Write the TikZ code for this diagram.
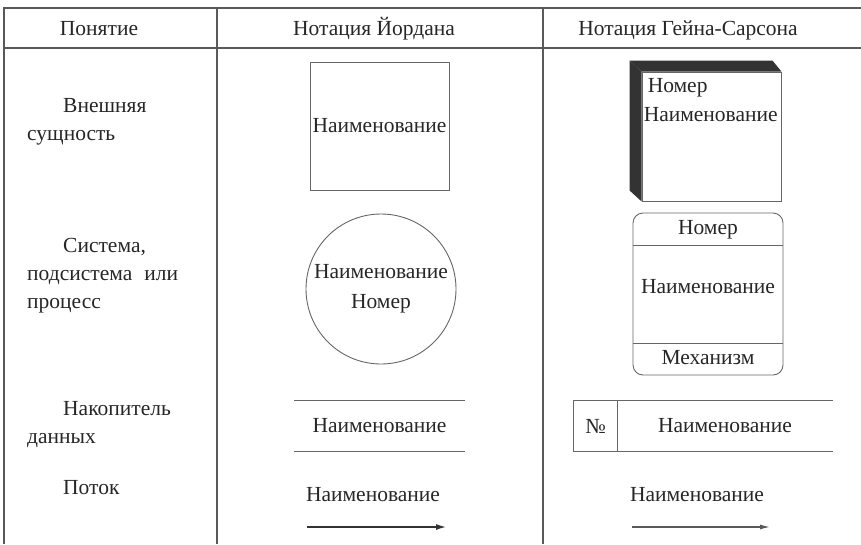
\documentclass[tikz,border=0pt]{standalone}
\usepackage{fontspec}
\setmainfont{Liberation Serif}
\usetikzlibrary{shapes,arrows,arrows.meta,positioning,calc}

\begin{document}
\begin{tikzpicture}[x=1pt,y=-1pt,
    every node/.style={font=\fontsize{21.5}{28}\selectfont, text=black!85},
    grid/.style={draw=black!65, line width=1.3pt},
    shp/.style={draw=black!60, line width=0.9pt},
    concept/.style={anchor=west, align=left, inner sep=0pt},
    head/.style={anchor=base},
    box/.style={shp, inner sep=0pt}]
    \useasboundingbox (0,0) rectangle (861,544);

    % Table
    \draw[grid] (861,8) -- (4,8) -- (4,544);
    \draw[grid] (4,48) -- (861,48);
    \draw[grid] (217,8) -- (217,544);
    \draw[grid] (543,8) -- (543,544);

    % Header
    \node[head] (hconcept) at (99,35) {Понятие};
    \node[head] (hyourdon) at (374,35) {Нотация Йордана};
    \node[head] (hgane) at (688,35) {Нотация Гейна-Сарсона};

    % Concepts
    \node[concept] (cext) at (27,122) {\hspace*{36pt}Внешняя\\сущность};
    \node[concept] (cproc) at (27,276) {\hspace*{36pt}Система,\\\hbox to 151pt{подсистема\hfill или}\\процесс};
    \node[concept] (cstore) at (27,425) {\hspace*{36pt}Накопитель\\данных};
    \node[concept] (cflow) at (63,488) {Поток};

    % Yourdon notation
    \node[box, minimum width=139, minimum height=128] (yext) at (379.5,126) {Наименование};
    \node[box, circle, minimum size=150, align=center, font=\fontsize{21.5}{30}\selectfont] (yproc) at (381,289) {Наименование\\Номер};
    \node[minimum width=171, minimum height=50, inner sep=0pt] (ystore) at (379.5,426) {Наименование};
    \draw[shp] (ystore.north west) -- (ystore.north east);
    \draw[shp] (ystore.south west) -- (ystore.south east);
    \node (yflowlbl) at (373,495) {Наименование};
    \coordinate (yflowA) at (307,527);
    \coordinate (yflowB) at (447,527);
    \draw[-{Latex[length=11pt,width=6pt]}, black!80, line width=2pt] (yflowA) -- (yflowB);

    % Gane-Sarson notation
    \node[box, minimum width=139, minimum height=129] (gext) at (711.5,136.5) {};
    \fill[black!80] (gext.north west) -- ++(-12,-11) -- ($(gext.north east)+(-9,-11)$) -- (gext.north east) -- cycle;
    \fill[black!80] (gext.north west) -- ++(-12,-11) -- ($(gext.south west)+(-12,-11)$) -- (gext.south west) -- cycle;
    \node[anchor=north west, align=left, inner sep=0pt, font=\fontsize{21.5}{29}\selectfont] (gextlbl) at ($(gext.north west)+(2,7)$) {\hspace*{4pt}Номер\\Наименование};

    \node[box, rounded corners=10pt, minimum width=150, minimum height=162] (gproc) at (708,294) {};
    \draw[shp] ($(gproc.north west)+(0,33)$) -- ($(gproc.north east)+(0,33)$);
    \draw[shp] ($(gproc.south west)+(0,-32)$) -- ($(gproc.south east)+(0,-32)$);
    \node (gprocnum) at (708,230) {Номер};
    \node (gprocname) at (708,287) {Наименование};
    \node (gprocmech) at (708,358) {Механизм};

    \node[minimum width=43, minimum height=50, inner sep=0pt] (gnum) at (595.5,426) {№};
    \node[minimum width=216, minimum height=50, inner sep=0pt] (gstore) at (725,426) {Наименование};
    \draw[shp] (gstore.north east) -- (gnum.north west) -- (gnum.south west) -- (gstore.south east);
    \draw[shp] (gnum.north east) -- (gnum.south east);

    \node (gflowlbl) at (697,495) {Наименование};
    \coordinate (gflowA) at (632,527);
    \coordinate (gflowB) at (770,527);
    \draw[-{Latex[length=10pt,width=5pt]}, black!65, line width=1.3pt] (gflowA) -- (gflowB);
\end{tikzpicture}
\end{document}
